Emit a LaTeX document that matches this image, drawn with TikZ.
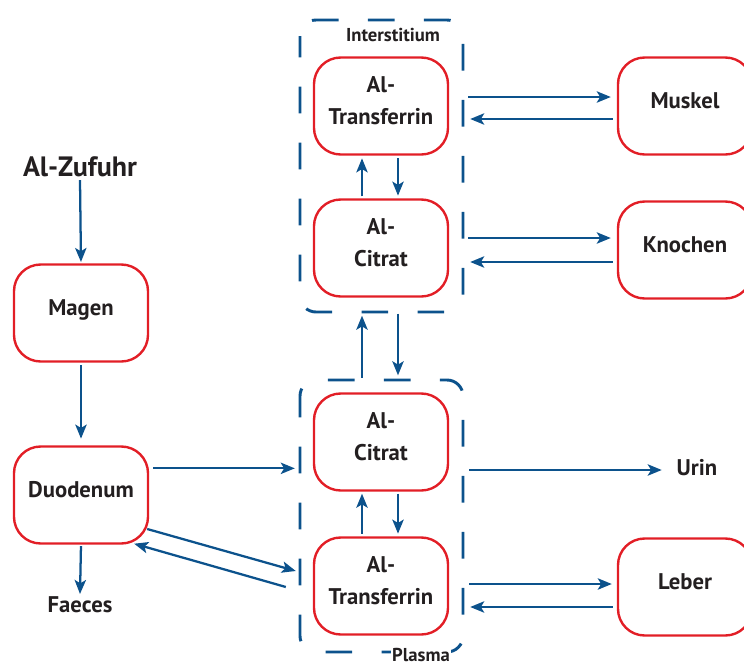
\documentclass[tikz,border=0pt]{standalone}
\usepackage{fontspec}
\setmainfont{PT Sans}
\usetikzlibrary{positioning, arrows.meta}
\definecolor{boxred}{RGB}{226,30,38}
\definecolor{flowblue}{RGB}{12,82,140}
\definecolor{inktext}{RGB}{35,31,32}

\begin{document}
\begin{tikzpicture}[x=0.75pt, y=-0.75pt,
        organ/.style={draw=boxred, line width=1.8pt, rounded corners=20pt,
            minimum width=100.5pt, minimum height=72.75pt, align=center, text depth=8pt,
            text=inktext, font=\bfseries\fontsize{17}{24}\selectfont},
        tag/.style={text=inktext, inner sep=2pt, font=\bfseries\fontsize{17}{22}\selectfont},
        space/.style={text=inktext, inner sep=1pt, fill=white, font=\bfseries\fontsize{14}{16}\selectfont},
        flow/.style={draw=flowblue, line width=1.7pt, -{Stealth[length=10.5pt, width=8.5pt, inset=2.5pt]}},
        membrane/.style={draw=flowblue, line width=2.2pt, rounded corners=12pt,
            dash pattern=on 20pt off 22pt, dash phase=4pt}]
    \useasboundingbox (0,0) rectangle (744,668);

    % compartments
    \draw[membrane] (300,20) rectangle (463,312);
    \draw[membrane] (300,380) rectangle (463,652);
    \node[space] (interstitium) at (393,35) {Interstitium};
    \node[space] (plasma) at (421,655) {Plasma};

    % intake
    \node[tag, font=\bfseries\fontsize{21}{24}\selectfont] (zufuhr) at (80,167) {Al-Zufuhr};
    \node[organ] (magen) at (81,313) {Magen};
    \node[organ] (duodenum) at (81,495) {Duodenum};
    \node[tag] (faeces) at (80,605) {Faeces};

    % aluminium species
    \node[organ] (itrans) at (381,106) {Al-\\Transferrin};
    \node[organ] (icitrat) at (381,248) {Al-\\Citrat};
    \node[organ] (pcitrat) at (381,442) {Al-\\Citrat};
    \node[organ] (ptrans) at (381,586) {Al-\\Transferrin};

    % tissues
    \node[organ] (muskel) at (685,106) {Muskel};
    \node[organ] (knochen) at (685,250) {Knochen};
    \node[organ] (leber) at (685,587) {Leber};
    \node[tag] (urin) at (697,468) {Urin};

    % gut
    \draw[flow, shorten >=1pt] (zufuhr.south) -- (magen.north);
    \draw[flow, shorten <=2pt, shorten >=5pt] (magen.south) -- (duodenum.north);
    \draw[flow, shorten <=1pt] (duodenum.south) -- (faeces.north);
    \draw[flow, shorten <=3pt, shorten >=13.5pt] ([yshift=20pt]duodenum.east) -- ([yshift=20pt]duodenum.east -| pcitrat.west);
    \draw[flow] ([shift={(-1.5pt,-25.5pt)}]duodenum.east) -- ([shift={(-12.75pt,11.25pt)}]ptrans.west);
    \draw[flow] ([shift={(-20.25pt,-0.75pt)}]ptrans.west) -- ([shift={(-11.25pt,0.75pt)}]duodenum.south east);

    % between species
    \draw[flow, shorten <=1.5pt, shorten >=2pt] ([xshift=-14.25pt]icitrat.north) -- ([xshift=-14.25pt]itrans.south);
    \draw[flow, shorten <=2pt, shorten >=2pt] ([xshift=12.75pt]itrans.south) -- ([xshift=12.75pt]icitrat.north);
    \draw[flow, shorten <=11pt, shorten >=13.5pt] ([xshift=-14.25pt]pcitrat.north) -- ([xshift=-14.25pt]icitrat.south);
    \draw[flow, shorten <=12pt, shorten >=12.75pt] ([xshift=12.75pt]icitrat.south) -- ([xshift=12.75pt]pcitrat.north);
    \draw[flow, shorten <=2pt, shorten >=1.5pt] ([xshift=-14.25pt]ptrans.north) -- ([xshift=-14.25pt]pcitrat.south);
    \draw[flow, shorten <=1.5pt, shorten >=2pt] ([xshift=12.75pt]pcitrat.south) -- ([xshift=12.75pt]ptrans.north);

    % exchange with tissues
    \draw[flow, shorten <=14.25pt, shorten >=4.5pt] ([yshift=6.75pt]itrans.east) -- ([yshift=6.75pt]itrans.east -| muskel.west);
    \draw[flow, shorten <=3pt, shorten >=15.75pt] ([yshift=-9.75pt]muskel.west) -- ([yshift=-9.75pt]muskel.west -| itrans.east);
    \draw[flow, shorten <=14.25pt, shorten >=4.5pt] ([yshift=7.5pt]icitrat.east) -- ([yshift=7.5pt]icitrat.east -| knochen.west);
    \draw[flow, shorten <=3pt, shorten >=15.75pt] ([yshift=-9pt]knochen.west) -- ([yshift=-9pt]knochen.west -| icitrat.east);
    \draw[flow, shorten <=15pt, shorten >=9pt] ([yshift=-21pt]pcitrat.east) -- ([yshift=-21pt]pcitrat.east -| urin.west);
    \draw[flow, shorten <=15pt, shorten >=3.75pt] ([yshift=1.5pt]ptrans.east) -- ([yshift=1.5pt]ptrans.east -| leber.west);
    \draw[flow, shorten <=3pt, shorten >=15.75pt] ([yshift=-15pt]leber.west) -- ([yshift=-15pt]leber.west -| ptrans.east);
\end{tikzpicture}
\end{document}
